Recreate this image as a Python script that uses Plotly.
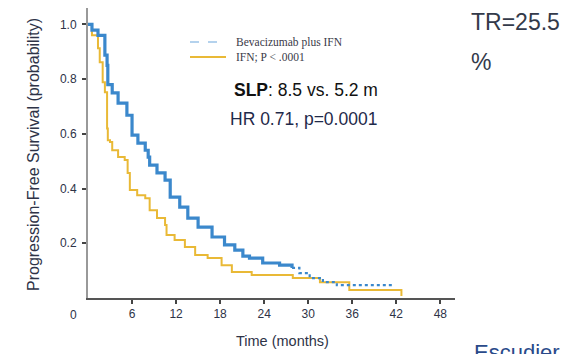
import plotly.graph_objects as go

# ---- data ----
beva_t = [0, 0.54, 1.36, 2.3, 2.6, 2.7, 3.3, 4.1, 5.3, 6.0, 6.8, 7.8, 8.2, 8.4, 9.4, 10.5, 11.2,
          12.5, 13.6, 15.0, 16.9, 18.6, 20.0, 21.1, 22.0, 23.8, 26.1, 27.8, 28.8, 30.2, 32.0, 33.9, 35.6, 41.5]
beva_p = [1.0, 0.979, 0.96, 0.888, 0.85, 0.78, 0.75, 0.712, 0.668, 0.595, 0.566, 0.54, 0.515, 0.486, 0.457,
          0.431, 0.369, 0.332, 0.292, 0.259, 0.223, 0.194, 0.175, 0.153, 0.146, 0.128, 0.12, 0.11, 0.091,
          0.073, 0.058, 0.047, 0.047, 0.047]
ifn_t = [0, 0.54, 1.36, 1.6, 2.0, 2.3, 2.6, 2.7, 3.0, 3.3, 4.1, 5.0, 5.4, 5.7, 6.7, 7.8, 8.4, 9.4, 10.5,
         10.7, 11.8, 13.2, 14.6, 16.3, 18.2, 19.6, 21.4, 22.3, 27.9, 30.2, 31.6, 35.6, 42.7, 42.7]
ifn_p = [1.0, 0.96, 0.913, 0.862, 0.789, 0.752, 0.62, 0.577, 0.57, 0.54, 0.515, 0.504, 0.457, 0.395,
         0.376, 0.365, 0.321, 0.292, 0.267, 0.23, 0.212, 0.186, 0.157, 0.146, 0.12, 0.095, 0.095, 0.084,
         0.073, 0.073, 0.058, 0.029, 0.029, 0.007]
x_ticks = [6, 12, 18, 24, 30, 36, 42, 48]
y_ticks = [0.2, 0.4, 0.6, 0.8, 1.0]
series_names = ["Bevacizumab plus IFN", "IFN; P < .0001"]

BLUE = "#3b88cc"
YEL = "#e9b936"
TXT = "#2e3347"
SANS = "Liberation Sans, Arial, sans-serif"
SERIF = "Liberation Serif, Times New Roman, serif"

# plot area in pixels
L, R, T, B = 88, 455, 8, 298
W, H = 564, 354


def px(xp):
    return (xp - L) / (R - L)


def py(yp):
    return (B - yp) / (B - T)


split = 27  # index where tail becomes lighter/dotted
fig = go.Figure()
fig.add_trace(go.Scatter(x=ifn_t, y=ifn_p, mode="lines", line=dict(color=YEL, width=2, shape="hv"),
                         name=series_names[1], showlegend=False))
fig.add_trace(go.Scatter(x=beva_t[:split + 1], y=beva_p[:split + 1], mode="lines",
                         line=dict(color=BLUE, width=3.2, shape="hv"), name=series_names[0], showlegend=False))
fig.add_trace(go.Scatter(x=beva_t[split:], y=beva_p[split:], mode="lines",
                         line=dict(color=BLUE, width=2.2, shape="hv", dash="dot"), name=series_names[0],
                         showlegend=False))

ann = []


def add_text(text, x, y, size, color, family=SANS, xanchor="left", yanchor="middle", angle=0):
    ann.append(dict(x=px(x), y=py(y), xref="paper", yref="paper", xanchor=xanchor, yanchor=yanchor,
                    text=text, showarrow=False, textangle=angle,
                    font=dict(size=size, color=color, family=family)))


add_text("0", 73, 315, 12, TXT, xanchor="center")
add_text("<b>SLP</b>: 8.5 vs. 5.2 m", 232, 90, 17.5, "#111111")
add_text("HR 0.71, p=0.0001", 228, 119, 17.5, "#1f2a4a")
add_text("TR=25.5", 469, 22, 23, "#333a4a")
add_text("%", 469, 62, 23, "#333a4a")
add_text("Escudier B", 472, 338, 22, "#2a4a8a", yanchor="top")
add_text("Time (months)", 282, 341, 14.5, TXT, xanchor="center")
add_text("Progression-Free Survival (probability)", 33, 155, 16, TXT, xanchor="center", angle=-90)
# manual legend
add_text(series_names[0], 234, 42, 11.5, "#3a3a48", family=SERIF)
add_text(series_names[1], 234, 57, 11.5, "#3a3a48", family=SERIF)
shapes = [
    dict(type="line", xref="paper", yref="paper", x0=px(190), x1=px(226), y0=py(42), y1=py(42),
         line=dict(color="#9cc4e8", width=1.6, dash="dash")),
    dict(type="line", xref="paper", yref="paper", x0=px(190), x1=px(226), y0=py(57), y1=py(57),
         line=dict(color=YEL, width=2)),
]

fig.update_layout(
    width=W, height=H,
    margin=dict(l=L, r=W - R, t=T, b=H - B, pad=0),
    paper_bgcolor="white", plot_bgcolor="white",
    annotations=ann, shapes=shapes, showlegend=False,
    xaxis=dict(range=[0, 50], tickvals=x_ticks, ticktext=[str(v) for v in x_ticks],
               showgrid=False, zeroline=False, showline=True, linecolor="#555", linewidth=2,
               ticks="outside", ticklen=4, tickcolor="#444", tickwidth=2,
               tickfont=dict(size=12, color=TXT, family=SANS)),
    yaxis=dict(range=[0, 1.06], tickvals=y_ticks, ticktext=["0.2", "0.4", "0.6", "0.8", "1.0"],
               showgrid=False, zeroline=False, showline=True, linecolor="#999", linewidth=2,
               ticks="outside", ticklen=4, tickcolor="#444", tickwidth=2, ticklabelstandoff=3,
               tickfont=dict(size=12, color=TXT, family=SANS)),
)

fig.write_html("out.html")
